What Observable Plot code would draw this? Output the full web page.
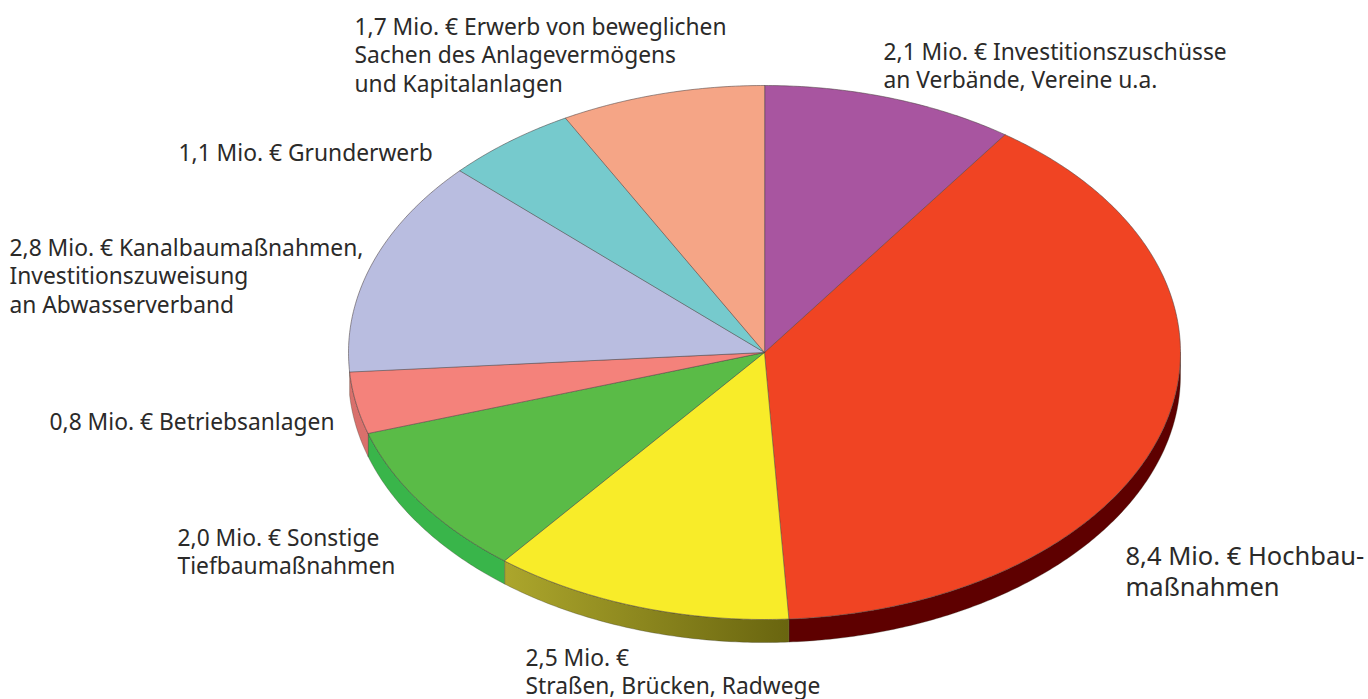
<!DOCTYPE html>
<html lang="de">
<head>
<meta charset="utf-8">
<script src="https://cdn.jsdelivr.net/npm/d3@7"></script>
<script src="https://cdn.jsdelivr.net/npm/@observablehq/plot@0.6"></script>
<style>html,body{margin:0;padding:0;background:#fff}svg{display:block}</style>
</head>
<body>
<div id="chart"></div>
<script>
const names = ["Investitionszuschüsse","Hochbau","Straßen","Tiefbau","Betriebsanlagen","Kanalbau","Grunderwerb","Erwerb"];
const values = [2.1, 8.4, 2.5, 2.0, 0.8, 2.8, 1.1, 1.7];
const labels = [
  "2,1 Mio. € Investitionszuschüsse\nan Verbände, Vereine u.a.",
  "8,4 Mio. € Hochbau-\nmaßnahmen",
  "2,5 Mio. €\nStraßen, Brücken, Radwege",
  "2,0 Mio. € Sonstige\nTiefbaumaßnahmen",
  "0,8 Mio. € Betriebsanlagen",
  "2,8 Mio. € Kanalbaumaßnahmen,\nInvestitionszuweisung\nan Abwasserverband",
  "1,1 Mio. € Grunderwerb",
  "1,7 Mio. € Erwerb von beweglichen\nSachen des Anlagevermögens\nund Kapitalanlagen"
];
const topColors = ["#a855a0","#f04423","#f8ec29","#5abb47","#f4827b","#b9bde0","#76cacd","#f5a586"];
const sideColors = {Hochbau:"#5e0000", "Straßen":"url(#sideYellow)", Tiefbau:"#39b54a", Betriebsanlagen:"#d9706c"};

// layout (pixels of the page)
const xRange = [348, 1180], yRange = [619, 85], depth = 23;
const labelLeft = [883, 1125, 525, 177, 49, 9, 178, 354];
const labelBase = [59, 564, 665, 545, 429, 255, 160, 34];
const lineH = 28.8, bigH = 32, fontSize = 22.8, bigSize = 25.5;

const xS = d3.scaleLinear([-1,1], xRange), yS = d3.scaleLinear([-1,1], yRange);
const depthU = depth / ((yRange[0]-yRange[1])/2);
const arcs = d3.pie().sort(null).value(d=>d)(values);

function rim(a0, a1, off=0){
  const n = Math.max(2, Math.ceil((a1-a0)/0.01));
  return d3.range(n+1).map(i=>{ const a=a0+(a1-a0)*i/n; return {x:Math.sin(a), y:Math.cos(a)-off}; });
}
const slices = arcs.flatMap((a,i)=>[{x:0,y:0},...rim(a.startAngle,a.endAngle)].map(p=>({...p,name:names[i]})));
const sideMarks = arcs.flatMap((a,i)=>{
  const c = sideColors[names[i]];
  if(!c) return [];
  const s0=Math.max(a.startAngle,Math.PI/2), s1=Math.min(a.endAngle,3*Math.PI/2);
  const pts=[...rim(s0,s1),...rim(s0,s1,depthU).reverse()];
  return [Plot.line(pts,{x:"x",y:"y",fill:c,stroke:"#3a3a2a",strokeOpacity:0.45,strokeWidth:0.7,curve:"linear-closed"})];
});
// Plot puts the first baseline 0.71 line heights below the "top" anchor
const labelData = labels.map((t,i)=>{
  const big = i===1, h = big ? bigH : lineH;
  return {t,big,x:xS.invert(labelLeft[i]),y:yS.invert(labelBase[i]-0.71*h)};
});

const defs = () => {
  const svgNS="http://www.w3.org/2000/svg";
  const g=document.createElementNS(svgNS,"defs");
  g.innerHTML='<linearGradient id="sideYellow" x1="0" x2="1" y1="0" y2="0"><stop offset="0" stop-color="#aca62c"/><stop offset="1" stop-color="#69650f"/></linearGradient>';
  return g;
};
const textOpts = (size,h)=>({x:"x",y:"y",text:"t",textAnchor:"start",lineAnchor:"top",lineHeight:h/size,fontSize:size,fontFamily:"Noto Sans",fill:"#2b2a29"});

const plot = Plot.plot({
  width:1368, height:699, margin:0,
  style:{background:"#fff",overflow:"visible"},
  x:{domain:[-1,1],range:xRange,axis:null},
  y:{domain:[-1,1],range:yRange,axis:null},
  color:{domain:names,range:topColors},
  marks:[
    defs,
    ...sideMarks,
    Plot.line(slices,{x:"x",y:"y",z:"name",fill:"name",stroke:"#4a4040",strokeOpacity:0.6,strokeWidth:0.9,curve:"linear-closed"}),
    Plot.text(labelData.filter(d=>!d.big),textOpts(fontSize,lineH)),
    Plot.text(labelData.filter(d=>d.big),textOpts(bigSize,bigH))
  ]
});
document.getElementById("chart").append(plot);
</script>
</body>
</html>
